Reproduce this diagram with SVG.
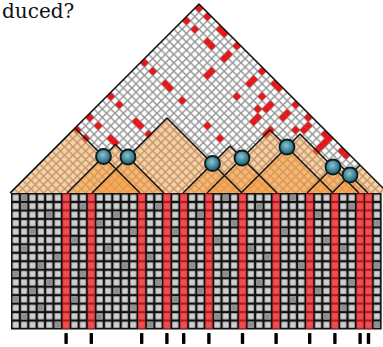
<svg xmlns="http://www.w3.org/2000/svg" width="383" height="347" viewBox="0 0 383 347">
<defs>
<style>
.cone{fill:#f5983a;fill-opacity:0.45}
.edge{stroke:#111;stroke-width:1.5;fill:none;stroke-linejoin:round}
.q{fill:url(#qg);stroke:#101820;stroke-width:1.8}
.tick{fill:#000}
.rc{fill:#e3191b}
.dk{fill:#8e8e8e}
.rcol{fill:url(#rp)}
</style>
<pattern id="lat" patternUnits="userSpaceOnUse" x="199" y="4" width="8.4" height="8.4">
<rect width="8.4" height="8.4" fill="#fff"/>
<path d="M-1,-1L9.4,9.4M9.4,-1L-1,9.4" stroke="#929292" stroke-width="1.4"/>
</pattern>
<pattern id="gp" patternUnits="userSpaceOnUse" x="11.5" y="193.5" width="8.4" height="8.47">
<rect width="8.4" height="8.47" fill="#111"/>
<rect x="1.2" y="1.2" width="6" height="6.07" fill="#cfcfcf"/>
</pattern>
<pattern id="rp" patternUnits="userSpaceOnUse" x="11.5" y="193.5" width="8.4" height="8.47">
<rect width="8.4" height="8.47" fill="#b3181e"/>
<rect x="1.1" y="1.1" width="6.2" height="6.27" fill="#ee5052"/>
</pattern>
<radialGradient id="qg" cx="0.45" cy="0.4" r="0.6">
<stop offset="0" stop-color="#8cc4d0"/>
<stop offset="0.6" stop-color="#3f8797"/>
<stop offset="1" stop-color="#1f5563"/>
</radialGradient>
<clipPath id="tri"><polygon points="199,4 10,193 388,193"/></clipPath>
<path id="rd" d="M0,-4.3L4.3,0L0,4.3L-4.3,0Z"/>
<rect id="dkc" width="6" height="6.07"/>
</defs>
<rect width="383" height="347" fill="#fff"/>
<text x="2" y="18" font-family="DejaVu Serif, serif" font-size="20" fill="#111">duced?</text>

<g id="lattice">
<polygon points="199,4 10,193 388,193" fill="url(#lat)"/>
<g clip-path="url(#tri)" class="rc">
<use href="#rd" x="199" y="8.2"/><use href="#rd" x="207.4" y="16.6"/><use href="#rd" x="186.4" y="20.8"/>
<use href="#rd" x="194.8" y="29.2"/><use href="#rd" x="220" y="29.2"/><use href="#rd" x="224.2" y="33.4"/>
<use href="#rd" x="207.4" y="41.8"/><use href="#rd" x="211.6" y="46"/><use href="#rd" x="236.8" y="46"/>
<use href="#rd" x="228.4" y="54.4"/><use href="#rd" x="224.2" y="58.6"/><use href="#rd" x="144.4" y="62.8"/>
<use href="#rd" x="152.8" y="71.2"/><use href="#rd" x="211.6" y="71.2"/><use href="#rd" x="207.4" y="75.4"/>
<use href="#rd" x="262" y="71.2"/><use href="#rd" x="253.6" y="79.6"/><use href="#rd" x="249.4" y="83.8"/>
<use href="#rd" x="165.4" y="83.8"/><use href="#rd" x="169.6" y="88"/><use href="#rd" x="274.6" y="83.8"/>
<use href="#rd" x="278.8" y="88"/><use href="#rd" x="110.8" y="96.4"/><use href="#rd" x="236.8" y="96.4"/>
<use href="#rd" x="262" y="96.4"/><use href="#rd" x="182.2" y="100.6"/><use href="#rd" x="119.2" y="104.8"/>
<use href="#rd" x="270.4" y="104.8"/><use href="#rd" x="266.2" y="109"/><use href="#rd" x="257.8" y="109"/>
<use href="#rd" x="287.2" y="113.2"/><use href="#rd" x="283" y="117.4"/><use href="#rd" x="257.8" y="117.4"/>
<use href="#rd" x="295.6" y="104.8"/><use href="#rd" x="308.2" y="117.4"/><use href="#rd" x="89.8" y="117.4"/>
<use href="#rd" x="136" y="121.6"/><use href="#rd" x="140.2" y="125.8"/><use href="#rd" x="253.6" y="121.6"/>
<use href="#rd" x="98.2" y="125.8"/><use href="#rd" x="207.4" y="125.8"/><use href="#rd" x="308.2" y="125.8"/>
<use href="#rd" x="77.2" y="130"/><use href="#rd" x="270.4" y="130"/><use href="#rd" x="295.6" y="130"/>
<use href="#rd" x="304" y="130"/><use href="#rd" x="266.2" y="134.2"/><use href="#rd" x="148.6" y="134.2"/>
<use href="#rd" x="325" y="134.2"/><use href="#rd" x="85.6" y="138.4"/><use href="#rd" x="110.8" y="138.4"/>
<use href="#rd" x="220" y="138.4"/><use href="#rd" x="329.2" y="138.4"/><use href="#rd" x="115" y="142.6"/>
<use href="#rd" x="325" y="142.6"/><use href="#rd" x="320.8" y="146.8"/><use href="#rd" x="316.6" y="151"/>
<use href="#rd" x="341.8" y="151"/><use href="#rd" x="346" y="155.2"/>
</g>
</g>

<g id="cones" clip-path="url(#tri)">
<polygon class="cone" points="75,128 10,193 140,193"/>
<polygon class="cone" points="115.5,144.5 67,193 164,193"/>
<polygon class="cone" points="167,118 92,193 242,193"/>
<polygon class="cone" points="230,146 183,193 277,193"/>
<polygon class="cone" points="270,130 207,193 333,193"/>
<polygon class="cone" points="300,134 241,193 359,193"/>
<polygon class="cone" points="337.5,162.5 307,193 368,193"/>
<polygon class="cone" points="380,145 332,193 428,193"/>
</g>

<g id="connectors" clip-path="url(#tri)">
<polyline class="edge" points="10,193 75,128 140,193"/>
<polyline class="edge" points="67,193 115.5,144.5 164,193"/>
<polyline class="edge" points="92,193 167,118 242,193"/>
<polyline class="edge" points="183,193 230,146 277,193"/>
<polyline class="edge" points="207,193 270,130 333,193"/>
<polyline class="edge" points="241,193 300,134 359,193"/>
<polyline class="edge" points="307,193 337.5,162.5 368,193"/>
<polyline class="edge" points="332,193 380,145 428,193"/>
</g>
<polyline class="edge" points="10,193 199,4 388,193"/>

<g id="grid">
<rect x="11.5" y="193.5" width="369.6" height="135.5" fill="url(#gp)" stroke="#111" stroke-width="1"/>
<rect class="rcol" x="62.4" y="193.5" width="7.4" height="135.5"/>
<rect class="rcol" x="87.6" y="193.5" width="7.4" height="135.5"/>
<rect class="rcol" x="138" y="193.5" width="7.4" height="135.5"/>
<rect class="rcol" x="163.2" y="193.5" width="7.4" height="135.5"/>
<rect class="rcol" x="180" y="193.5" width="7.4" height="135.5"/>
<rect class="rcol" x="205.2" y="193.5" width="7.4" height="135.5"/>
<rect class="rcol" x="238.8" y="193.5" width="7.4" height="135.5"/>
<rect class="rcol" x="272.4" y="193.5" width="7.4" height="135.5"/>
<rect class="rcol" x="306" y="193.5" width="7.4" height="135.5"/>
<rect class="rcol" x="331.2" y="193.5" width="7.4" height="135.5"/>
<rect class="rcol" x="356.4" y="193.5" width="7.4" height="135.5"/>
<rect class="rcol" x="364.8" y="193.5" width="7.4" height="135.5"/>
<g class="dk">
<use href="#dkc" x="21.1" y="194.7"/><use href="#dkc" x="222.7" y="194.7"/><use href="#dkc" x="289.9" y="194.7"/>
<use href="#dkc" x="21.1" y="203.2"/><use href="#dkc" x="79.9" y="203.2"/><use href="#dkc" x="155.5" y="203.2"/><use href="#dkc" x="256.3" y="203.2"/><use href="#dkc" x="348.7" y="203.2"/>
<use href="#dkc" x="46.3" y="211.6"/><use href="#dkc" x="113.5" y="211.6"/><use href="#dkc" x="197.5" y="211.6"/><use href="#dkc" x="315.1" y="211.6"/>
<use href="#dkc" x="96.7" y="220.1"/><use href="#dkc" x="231.1" y="220.1"/><use href="#dkc" x="373.9" y="220.1"/>
<use href="#dkc" x="29.5" y="228.6"/><use href="#dkc" x="130.3" y="228.6"/><use href="#dkc" x="172.3" y="228.6"/><use href="#dkc" x="281.5" y="228.6"/>
<use href="#dkc" x="71.5" y="237.1"/><use href="#dkc" x="214.3" y="237.1"/><use href="#dkc" x="323.5" y="237.1"/>
<use href="#dkc" x="21.1" y="245.5"/><use href="#dkc" x="105.1" y="245.5"/><use href="#dkc" x="247.9" y="245.5"/><use href="#dkc" x="340.3" y="245.5"/>
<use href="#dkc" x="54.7" y="254"/><use href="#dkc" x="147.1" y="254"/><use href="#dkc" x="264.7" y="254"/>
<use href="#dkc" x="37.9" y="262.5"/><use href="#dkc" x="121.9" y="262.5"/><use href="#dkc" x="189.1" y="262.5"/><use href="#dkc" x="298.3" y="262.5"/><use href="#dkc" x="373.9" y="262.5"/>
<use href="#dkc" x="12.7" y="270.9"/><use href="#dkc" x="79.9" y="270.9"/><use href="#dkc" x="222.7" y="270.9"/>
<use href="#dkc" x="46.3" y="279.4"/><use href="#dkc" x="155.5" y="279.4"/><use href="#dkc" x="256.3" y="279.4"/><use href="#dkc" x="348.7" y="279.4"/>
<use href="#dkc" x="29.5" y="287.9"/><use href="#dkc" x="113.5" y="287.9"/><use href="#dkc" x="197.5" y="287.9"/><use href="#dkc" x="315.1" y="287.9"/>
<use href="#dkc" x="12.7" y="296.3"/><use href="#dkc" x="71.5" y="296.3"/><use href="#dkc" x="172.3" y="296.3"/><use href="#dkc" x="289.9" y="296.3"/>
<use href="#dkc" x="37.9" y="304.8"/><use href="#dkc" x="130.3" y="304.8"/><use href="#dkc" x="231.1" y="304.8"/><use href="#dkc" x="340.3" y="304.8"/>
<use href="#dkc" x="21.1" y="313.3"/><use href="#dkc" x="96.7" y="313.3"/><use href="#dkc" x="214.3" y="313.3"/><use href="#dkc" x="264.7" y="313.3"/><use href="#dkc" x="323.5" y="313.3"/>
<use href="#dkc" x="54.7" y="321.7"/><use href="#dkc" x="147.1" y="321.7"/><use href="#dkc" x="247.9" y="321.7"/><use href="#dkc" x="373.9" y="321.7"/>
</g>
</g>

<g id="nodes">
<circle id="q1" class="q" cx="103.5" cy="156.5" r="7.5"/>
<circle id="q2" class="q" cx="128" cy="157" r="7.5"/>
<circle id="q3" class="q" cx="212.5" cy="163.5" r="7.5"/>
<circle id="q4" class="q" cx="242" cy="158" r="7.5"/>
<circle id="q5" class="q" cx="287" cy="147" r="7.5"/>
<circle id="q6" class="q" cx="333" cy="167" r="7.5"/>
<circle id="q7" class="q" cx="350" cy="175" r="7.5"/>
</g>

<g id="ticks" class="tick">
<rect x="64.4" y="333" width="3.4" height="11" rx="0.8"/>
<rect x="89.6" y="333" width="3.4" height="11" rx="0.8"/>
<rect x="140" y="333" width="3.4" height="11" rx="0.8"/>
<rect x="165.2" y="333" width="3.4" height="11" rx="0.8"/>
<rect x="182" y="333" width="3.4" height="11" rx="0.8"/>
<rect x="207.2" y="333" width="3.4" height="11" rx="0.8"/>
<rect x="240.8" y="333" width="3.4" height="11" rx="0.8"/>
<rect x="274.4" y="333" width="3.4" height="11" rx="0.8"/>
<rect x="308" y="333" width="3.4" height="11" rx="0.8"/>
<rect x="333.2" y="333" width="3.4" height="11" rx="0.8"/>
<rect x="358.4" y="333" width="3.4" height="11" rx="0.8"/>
<rect x="366.8" y="333" width="3.4" height="11" rx="0.8"/>
</g>
</svg>
